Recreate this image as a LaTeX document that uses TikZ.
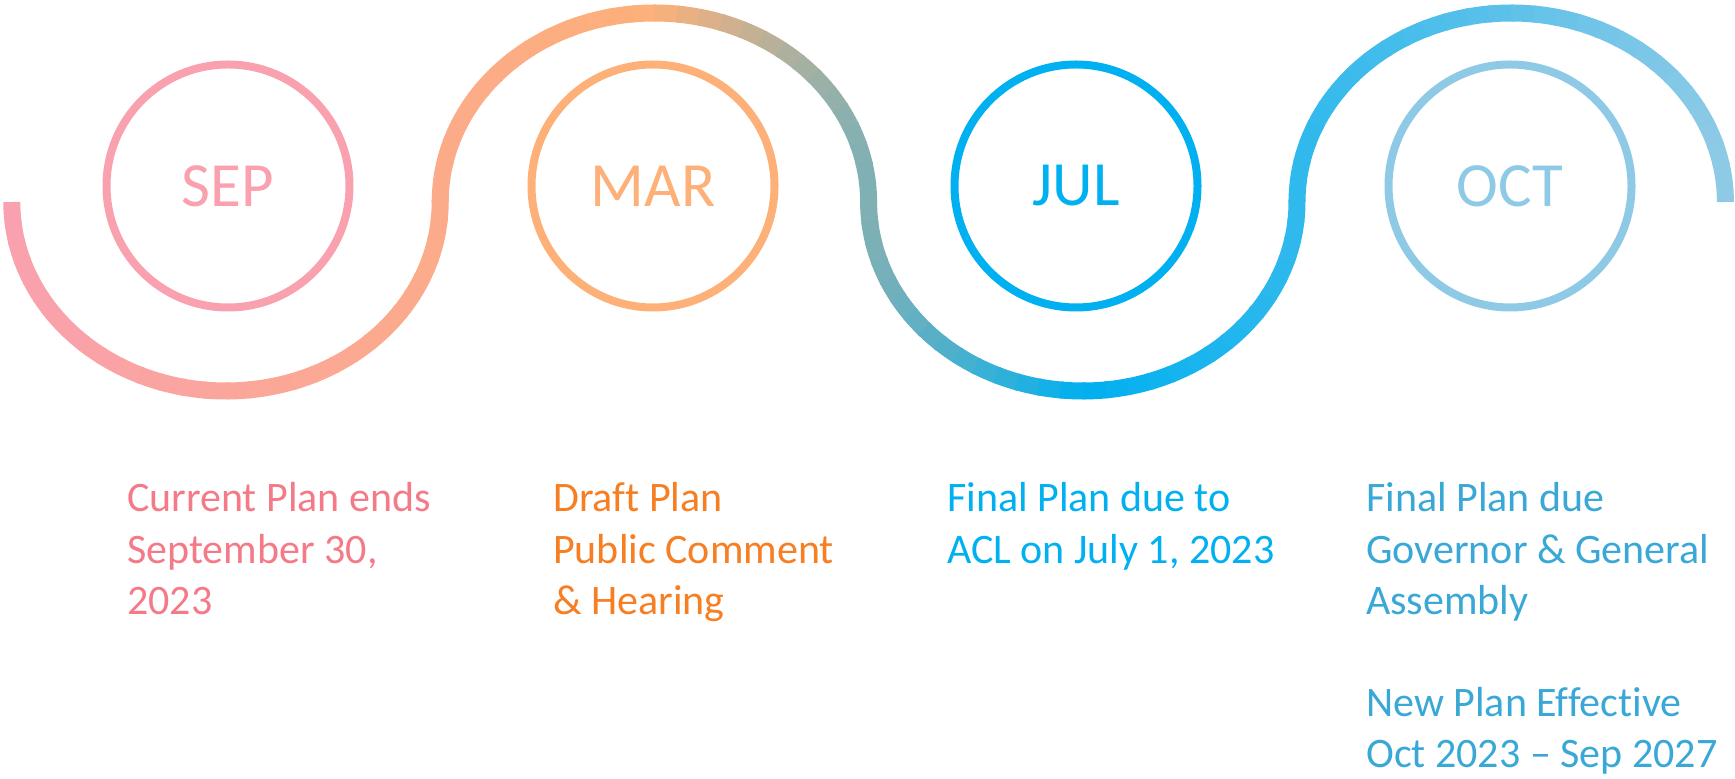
\documentclass[tikz,border=0pt]{standalone}
\usepackage{fontspec}
\setmainfont{Carlito}[Ligatures={NoCommon}]

% Colours of the wave, the rings and the notes
\definecolor{pinkw}{RGB}{249,161,174}
\definecolor{orangew}{RGB}{253,176,120}
\definecolor{bluew}{RGB}{0,176,240}
\definecolor{lightw}{RGB}{142,202,230}
\definecolor{sepnote}{RGB}{244,122,136}
\definecolor{marnote}{RGB}{246,126,35}
\definecolor{julnote}{RGB}{0,176,240}
\definecolor{octnote}{RGB}{58,168,215}

\tikzset{
    monthring/.style={circle, line width=8pt, minimum size=243pt, inner sep=0pt, font=\fontsize{63}{63}\selectfont},
    notetext/.style={anchor=base west, align=left, inner sep=0pt, font=\fontsize{42}{51.2}\selectfont}
}

\begin{document}
\begin{tikzpicture}[x=1pt, y=1pt, line cap=butt]
        % Fixing the page
        \useasboundingbox (0,0) rectangle (1735,779);

        % Drawing the wave, quarter by quarter, in small coloured pieces
        \foreach \cx/\sa/\ea/\colL/\colR/\xl/\xr/\lastext in {
            226/180/270/pinkw/orangew/12/654.4/1.12,
            226/270/360/pinkw/orangew/12/654.4/1.12,
            654.4/180/90/pinkw/orangew/12/654.4/1.12,
            654.4/90/0/orangew/bluew/654.4/1082.8/1.12,
            1082.8/180/270/orangew/bluew/654.4/1082.8/1.12,
            1082.8/270/360/bluew/lightw/1082.8/1725.4/1.12,
            1511.2/180/90/bluew/lightw/1082.8/1725.4/1.12,
            1511.2/90/0/bluew/lightw/1082.8/1725.4/1} {
            \foreach \k in {0,...,14} {
                \pgfmathsetmacro\ang{\sa+(\ea-\sa)*\k/15}
                \pgfmathsetmacro\dang{(\ea-\sa)/15*ifthenelse(\k<14,1.12,\lastext)}
                \pgfmathsetmacro\mang{\ang+(\ea-\sa)/30}
                \pgfmathsetmacro\pct{max(0,min(100,(\cx+214.2*cos(\mang)-\xl)/(\xr-\xl)*100))}
                \draw[line width=17pt, color=\colR!\pct!\colL] (\cx,577) ++(\ang:214.2 and 189)
                    arc[start angle=\ang, delta angle=\dang, x radius=214.2, y radius=189];
            }
        }

        % Adding the month rings
        \node[monthring, draw=pinkw, text=pinkw] (sep) at (228,593) {SEP};
        \node[monthring, draw=orangew, text=orangew] (mar) at (653,593) {MAR};
        \node[monthring, draw=bluew, text=bluew] (jul) at (1076,593) {JUL};
        \node[monthring, draw=lightw, text=lightw] (oct) at (1510,593) {OCT};

        % Adding the notes (placed at the baseline of their last line)
        \node[notetext, text=sepnote] (sepnote) at (127,164.6) {Current Plan ends\\September 30,\\2023};
        \node[notetext, text=marnote] (marnote) at (553,164.6) {Draft Plan\\Public Comment\\\& Hearing};
        \node[notetext, text=julnote] (julnote) at (947,215.8) {Final Plan due to\\ACL on July 1, 2023};
        \node[notetext, text=octnote] (octnote) at (1366,11) {Final Plan due\\Governor \& General\\Assembly\\[51.2pt]New Plan Effective\\Oct 2023 -- Sep 2027};
\end{tikzpicture}
\end{document}
